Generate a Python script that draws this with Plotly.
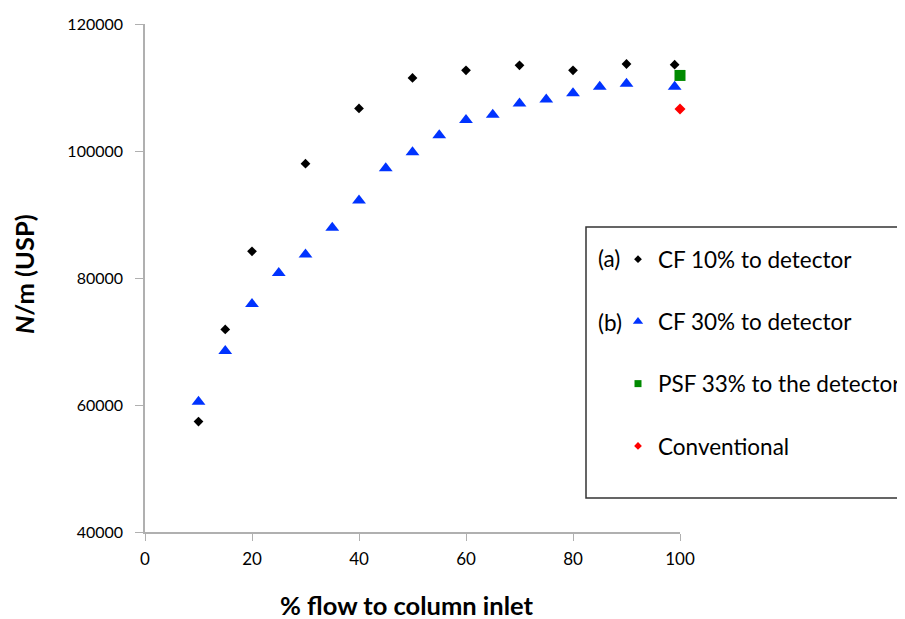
import plotly.graph_objects as go

# Data
cf10_x = [10, 15, 20, 30, 40, 50, 60, 70, 80, 90, 99]
cf10_y = [57400, 71900, 84200, 98000, 106700, 111500, 112700, 113500, 112700, 113700, 113600]

cf30_x = [10, 15, 20, 25, 30, 35, 40, 45, 50, 55, 60, 65, 70, 75, 80, 85, 90, 99]
cf30_y = [60500, 68500, 75900, 80800, 83700, 87900, 92200, 97300, 99800, 102500, 104900,
          105700, 107500, 108100, 109100, 110100, 110600, 110100]

psf_x = [100]
psf_y = [111900]

conv_x = [100]
conv_y = [106600]

x_ticks = [0, 20, 40, 60, 80, 100]
y_ticks = [40000, 60000, 80000, 100000, 120000]
y_tick_text = ["40000", "60000", "80000", "100000", "120000"]

FONT = "Lato"

fig = go.Figure()

fig.add_trace(go.Scatter(x=cf10_x, y=cf10_y, mode="markers", showlegend=False, cliponaxis=False,
                         marker=dict(symbol="diamond", size=7.5, color="black")))
fig.add_trace(go.Scatter(x=cf30_x, y=cf30_y, mode="markers", showlegend=False, cliponaxis=False,
                         marker=dict(symbol="triangle-up", size=12, color="#0033FF")))
fig.add_trace(go.Scatter(x=psf_x, y=psf_y, mode="markers", showlegend=False, cliponaxis=False,
                         marker=dict(symbol="square", size=11, color="#008A00")))
fig.add_trace(go.Scatter(x=conv_x, y=conv_y, mode="markers", showlegend=False, cliponaxis=False,
                         marker=dict(symbol="diamond", size=8.5, color="#FF0000")))

# legend entries
legend_items = [
    ("CF 10% to detector", "diamond", 6, "black"),
    ("CF 30% to detector", "triangle-up", 9, "#0033FF"),
    ("PSF 33% to the detector", "square", 7, "#008A00"),
    ("Conventional", "diamond", 6, "#FF0000"),
]
for i, (name, sym, sz, col) in enumerate(legend_items):
    fig.add_trace(go.Scatter(x=[None], y=[None], mode="markers", name=name,
                             legendgroup=f"g{i}",
                             marker=dict(symbol=sym, size=sz, color=col)))

# page has an 8px body margin; work in page pixel coordinates
OFF = 8
W, H = 905 - OFF, 619 - OFF
PX0, PX1 = 145, 680   # plot area (page px)
PY0, PY1 = 24, 532
L = PX0 - OFF
T = PY0 - OFF
pw = PX1 - PX0
ph = PY1 - PY0
R = W - L - pw
B = H - T - ph

def px_x(p):
    return (p - PX0) / pw

def px_y(p):
    return (PY1 - p) / ph

LEG_SIZE = 22.5
AXIS_COLOR = "#B0B0B0"

fig.update_layout(
    width=W, height=H,
    margin=dict(l=L, r=R, t=T, b=B, autoexpand=False),
    paper_bgcolor="white", plot_bgcolor="white",
    font=dict(family=FONT, color="black"),
    legend=dict(x=px_x(618), y=px_y(238), xanchor="left", yanchor="top",
                font=dict(family=FONT, size=LEG_SIZE, color="black"),
                tracegroupgap=30, bgcolor="rgba(0,0,0,0)", itemclick=False),
    xaxis=dict(range=[0, 100], tickvals=x_ticks, showgrid=False, zeroline=False,
               showline=True, linecolor=AXIS_COLOR, linewidth=1.5,
               ticks="outside", ticklen=7, tickcolor=AXIS_COLOR, ticklabelstandoff=4,
               tickfont=dict(family=FONT, size=17, color="black")),
    yaxis=dict(range=[40000, 120000], tickvals=y_ticks, ticktext=y_tick_text,
               showgrid=False, zeroline=False,
               showline=True, linecolor=AXIS_COLOR, linewidth=1.5,
               ticks="outside", ticklen=8, tickcolor=AXIS_COLOR, ticklabelstandoff=9,
               tickfont=dict(family=FONT, size=16, color="black")),
    shapes=[dict(type="rect", xref="paper", yref="paper",
                 x0=px_x(586), x1=px_x(960), y0=px_y(498), y1=px_y(227),
                 line=dict(color="#333333", width=1.5))],
    annotations=[
        dict(text="% flow to column inlet", xref="paper", yref="paper",
             x=px_x(407), y=px_y(605), xanchor="center", yanchor="middle",
             showarrow=False, font=dict(family=FONT, size=25.5, color="black", weight="bold")),
        dict(text="<i>N</i>/m (USP)", xref="paper", yref="paper",
             x=px_x(24), y=px_y(274), xanchor="center", yanchor="middle", textangle=-90,
             showarrow=False, font=dict(family=FONT, size=25.5, color="black", weight="bold")),
        dict(text="(a)", xref="paper", yref="paper", x=px_x(596), y=px_y(259),
             xanchor="left", yanchor="middle", showarrow=False,
             font=dict(family=FONT, size=LEG_SIZE, color="black")),
        dict(text="(b)", xref="paper", yref="paper", x=px_x(596), y=px_y(322),
             xanchor="left", yanchor="middle", showarrow=False,
             font=dict(family=FONT, size=LEG_SIZE, color="black")),
    ],
)

fig.write_html("out.html")
